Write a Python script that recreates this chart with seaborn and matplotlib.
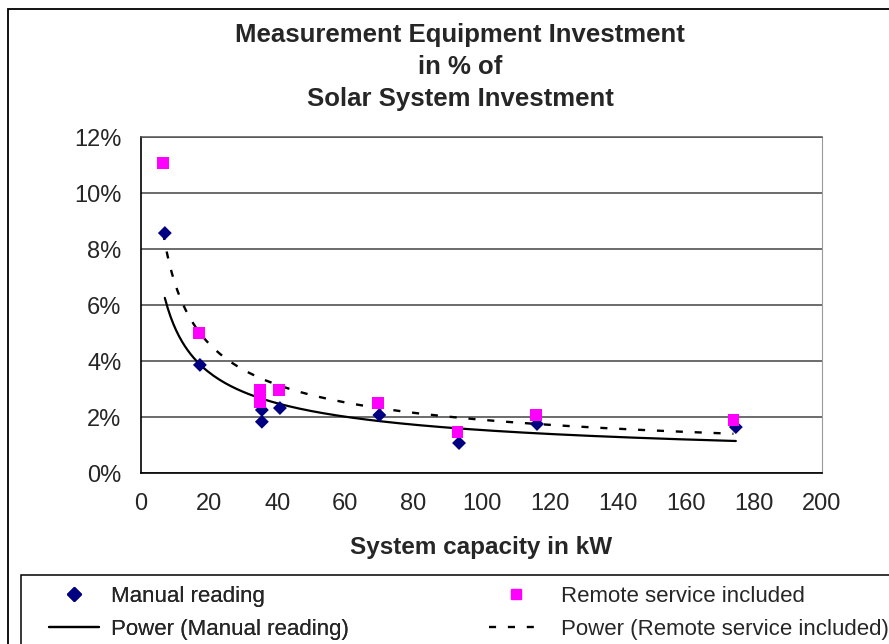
import numpy as np
import matplotlib
matplotlib.use("Agg")
import matplotlib.pyplot as plt
import seaborn as sns
from matplotlib.ticker import PercentFormatter
from matplotlib.lines import Line2D
from matplotlib.patches import Rectangle

# values (capacity in kW, share in %)
manual_kw = [7.0, 17.3, 35.5, 35.5, 40.8, 70.0, 93.4, 116.3, 174.7]
manual_pct = [8.57, 3.86, 2.25, 1.83, 2.32, 2.07, 1.07, 1.75, 1.64]
remote_kw = [6.5, 17.0, 35.0, 35.0, 40.5, 69.6, 93.0, 116.0, 174.0]
remote_pct = [11.07, 5.0, 2.96, 2.54, 2.96, 2.5, 1.46, 2.07, 1.89]
x_ticks = list(range(0, 201, 20))
y_ticks = list(range(0, 13, 2))

TITLE = "Measurement Equipment Investment\nin % of\nSolar System Investment"
DOTTED = (0, (3, 5))
W, H = 889, 644


def power_fit(x, y):
    # Excel style power trendline: linear fit in log-log space
    b, ln_a = np.polyfit(np.log(x), np.log(y), 1)
    xs = np.linspace(min(x), max(x), 200)
    return xs, np.exp(ln_a) * xs ** b


sns.set_style("white")
plt.rcParams["font.family"] = ["Liberation Sans", "DejaVu Sans"]

fig = plt.figure(figsize=(W / 100, H / 100), dpi=100)
ax = fig.add_axes([141 / W, 1 - 473 / H, 681 / W, 336 / H])

fx, fy = power_fit(manual_kw, manual_pct)
sns.lineplot(x=fx, y=fy, color="black", lw=1.6, ax=ax, zorder=2)
rx, ry = power_fit(remote_kw, remote_pct)
sns.lineplot(x=rx, y=ry, color="black", lw=1.7, ax=ax, zorder=2, linestyle=DOTTED)

sns.scatterplot(x=manual_kw, y=manual_pct, marker="D", s=50, color="#000080",
                edgecolor="none", ax=ax, zorder=3)
sns.scatterplot(x=remote_kw, y=remote_pct, marker="s", s=70, color="#FF00FF",
                edgecolor="none", ax=ax, zorder=3)

ax.set_xlim(0, 200)
ax.set_ylim(0, 12)
ax.set_xticks(x_ticks)
ax.set_yticks(y_ticks)
ax.yaxis.set_major_formatter(PercentFormatter(100, decimals=0))
ax.grid(axis="y", color="#444444", lw=1.1)
ax.set_axisbelow(True)
for side in ["left", "bottom"]:
    ax.spines[side].set_color("black")
    ax.spines[side].set_linewidth(1.2)
ax.spines["top"].set_color("#555555")
ax.spines["top"].set_linewidth(1.1)
ax.spines["right"].set_color("#999999")
ax.tick_params(axis="both", direction="out", color="black", width=1, labelsize=17)
ax.tick_params(axis="x", length=4.5, pad=10)
ax.tick_params(axis="y", length=6, pad=8)
ax.set_xlabel("System capacity in kW", fontsize=17.5, fontweight="bold")
ax.xaxis.set_label_coords(0.5, (473 - 536) / 336)
ax.set_ylabel("")

fig.text(460 / W, 1 - 23 / H, TITLE, ha="center", va="top", fontsize=18.5,
         fontweight="bold", linespacing=1.42)

# outer chart frame and legend frame run off the right / bottom edge
fig.patches.append(Rectangle((8 / W, -0.1), 2, 1.1 - 9 / H, transform=fig.transFigure,
                             fill=False, edgecolor="black", lw=1.3))
fig.patches.append(Rectangle((21 / W, -0.1), 2, 0.1 + (H - 575) / H,
                             transform=fig.transFigure, fill=False,
                             edgecolor="black", lw=1.1))

col1 = [Line2D([], [], marker="D", color="#000080", ls="none", markersize=7),
        Line2D([], [], color="black", lw=1.6)]
col2 = [Line2D([], [], marker="s", color="#FF00FF", ls="none", markersize=7.5),
        Line2D([], [], color="black", lw=1.7, linestyle=DOTTED)]
common = dict(loc="upper left", fontsize=16, frameon=False, borderpad=0,
              borderaxespad=0, labelspacing=0.55)
leg1 = fig.legend(col1, ["Manual reading", "Power (Manual reading)"],
                  bbox_to_anchor=(49 / W, 1 - 586 / H), handlelength=2.25,
                  handletextpad=0.55, **common)
fig.add_artist(leg1)
fig.legend(col2, ["Remote service included", "Power (Remote service included)"],
           bbox_to_anchor=(489 / W, 1 - 586 / H), handlelength=2.45,
           handletextpad=0.8, **common)

fig.savefig("out.png", dpi=100)
